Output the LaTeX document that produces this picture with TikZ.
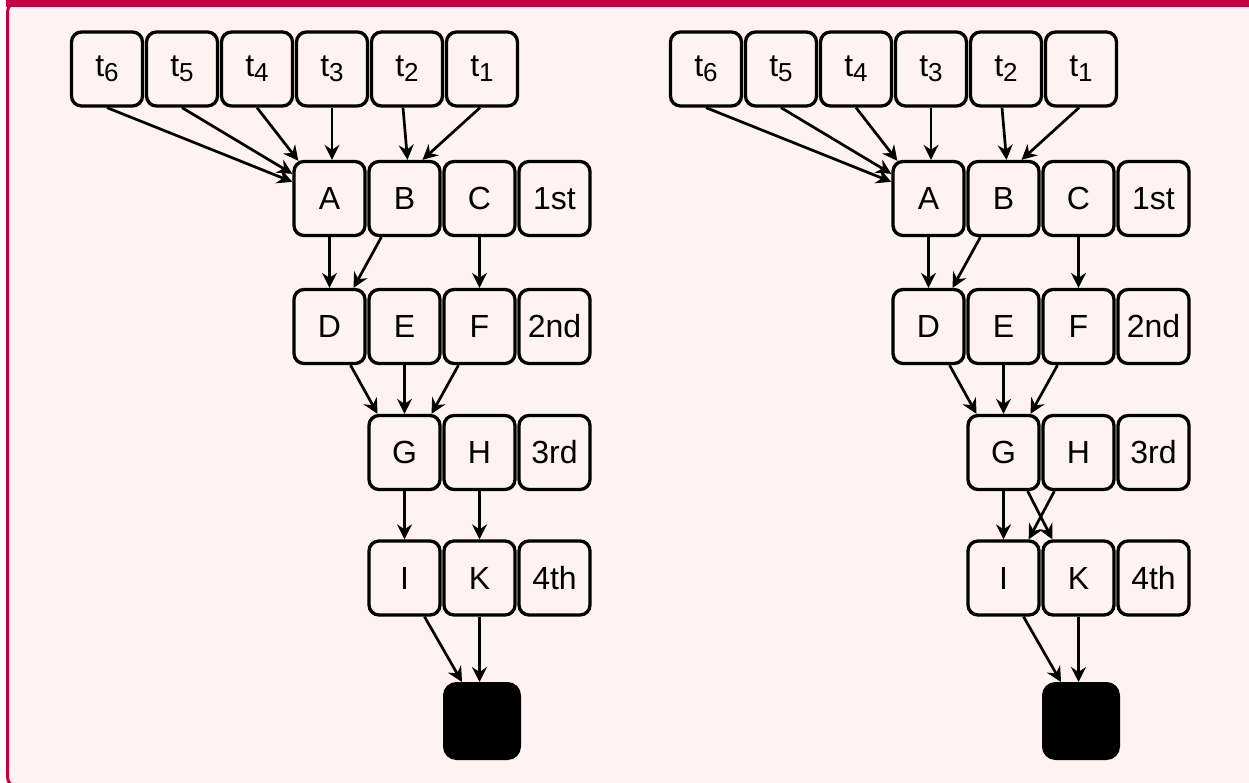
\documentclass[tikz,border=0pt]{standalone}
\usepackage{fontspec}
\setmainfont{Liberation Sans}
\usetikzlibrary{arrows.meta,calc}
\definecolor{bgpink}{HTML}{FFF2F2}
\definecolor{crimson}{HTML}{C30040}
\newcommand{\tsub}[1]{t\raisebox{-5pt}{\fontsize{26}{26}\selectfont #1}}
\begin{document}
\begin{tikzpicture}[x=1pt,y=-1pt,
  box/.style={draw=black, line width=3.3pt, rounded corners=10pt, fill=bgpink,
    minimum width=71pt, minimum height=74pt, inner sep=0pt,
    font=\fontsize{32}{36}\selectfont, text=black},
  blackbox/.style={draw=black, fill=black, line width=3pt, rounded corners=12pt,
    minimum width=75pt, minimum height=75pt, inner sep=0pt},
  arr/.style={draw=black, line width=2.7pt, -{Stealth[length=15pt,width=15pt,inset=5pt]}}]
\useasboundingbox (0,0) rectangle (1249,782);
\fill[white] (0,0) rectangle (1249,782);
\begin{scope}
\clip (0,0) rectangle (1249,782);
\filldraw[fill=bgpink, draw=crimson, line width=3pt, rounded corners=10pt] (7.5,2) rectangle (1253,787);
\fill[crimson] (6,0) rectangle (1249,7);
\end{scope}
\foreach \p/\dx in {L/0, R/599} {
  \begin{scope}[xshift=\dx pt]
  \node[box] (\p t6) at (107,69) {\tsub{6}};
  \node[box] (\p t5) at (182,69) {\tsub{5}};
  \node[box] (\p t4) at (257,69) {\tsub{4}};
  \node[box] (\p t3) at (332,69) {\tsub{3}};
  \node[box] (\p t2) at (407,69) {\tsub{2}};
  \node[box] (\p t1) at (482,69) {\tsub{1}};
  \node[box] (\p A) at (329.5,198.5) {A};
  \node[box] (\p B) at (404.5,198.5) {B};
  \node[box] (\p C) at (479.5,198.5) {C};
  \node[box] (\p r1) at (554.5,198.5) {1st};
  \node[box] (\p D) at (329.5,326.5) {D};
  \node[box] (\p E) at (404.5,326.5) {E};
  \node[box] (\p F) at (479.5,326.5) {F};
  \node[box] (\p r2) at (554.5,326.5) {2nd};
  \node[box] (\p G) at (404.5,452.5) {G};
  \node[box] (\p H) at (479.5,452.5) {H};
  \node[box] (\p r3) at (554.5,452.5) {3rd};
  \node[box] (\p I) at (404.5,578) {I};
  \node[box] (\p K) at (479.5,578) {K};
  \node[box] (\p r4) at (554.5,578) {4th};
  \node[blackbox] (\p X) at (482,721) {};
  \end{scope}
  \draw[arr] (\p t6.south) -- ([yshift=-22pt]\p A.north west);
  \draw[arr] (\p t5.south) -- ([yshift=-14pt]\p A.north west);
  \draw[arr] (\p t4.south) -- ([xshift=6pt,yshift=-1pt]\p A.north west);
  \draw[arr] (\p t3.south) -- (\p t3.south |- \p A.north);
  \draw[arr] ([xshift=-4pt]\p t2.south) -- ([xshift=3pt]\p B.north);
  \draw[arr] ([xshift=-2pt]\p t1.south) -- ([xshift=18pt]\p B.north);
  \draw[arr] (\p A.south) -- (\p D.north);
  \draw[arr] ([xshift=14pt]\p B.south west) -- ([xshift=24pt]\p D.north);
  \draw[arr] (\p C.south) -- (\p F.north);
  \draw[arr] ([xshift=21pt]\p D.south) -- ([xshift=-27pt]\p G.north);
  \draw[arr] (\p E.south) -- (\p G.north);
  \draw[arr] ([xshift=-21pt]\p F.south) -- ([xshift=27pt]\p G.north);
  \draw[arr] (\p G.south) -- (\p I.north);
  \draw[arr] ([xshift=20pt]\p I.south) -- ([xshift=19pt]\p X.north west);
  \draw[arr] (\p K.south) -- (\p K.south |- \p X.north);
}
\draw[arr] (LH.south) -- (LK.north);
\draw[arr] ([xshift=-13pt]RG.south east) -- ([xshift=11pt]RK.north west);
\draw[arr] ([xshift=13pt]RH.south west) -- ([xshift=-12pt]RI.north east);
\end{tikzpicture}
\end{document}
